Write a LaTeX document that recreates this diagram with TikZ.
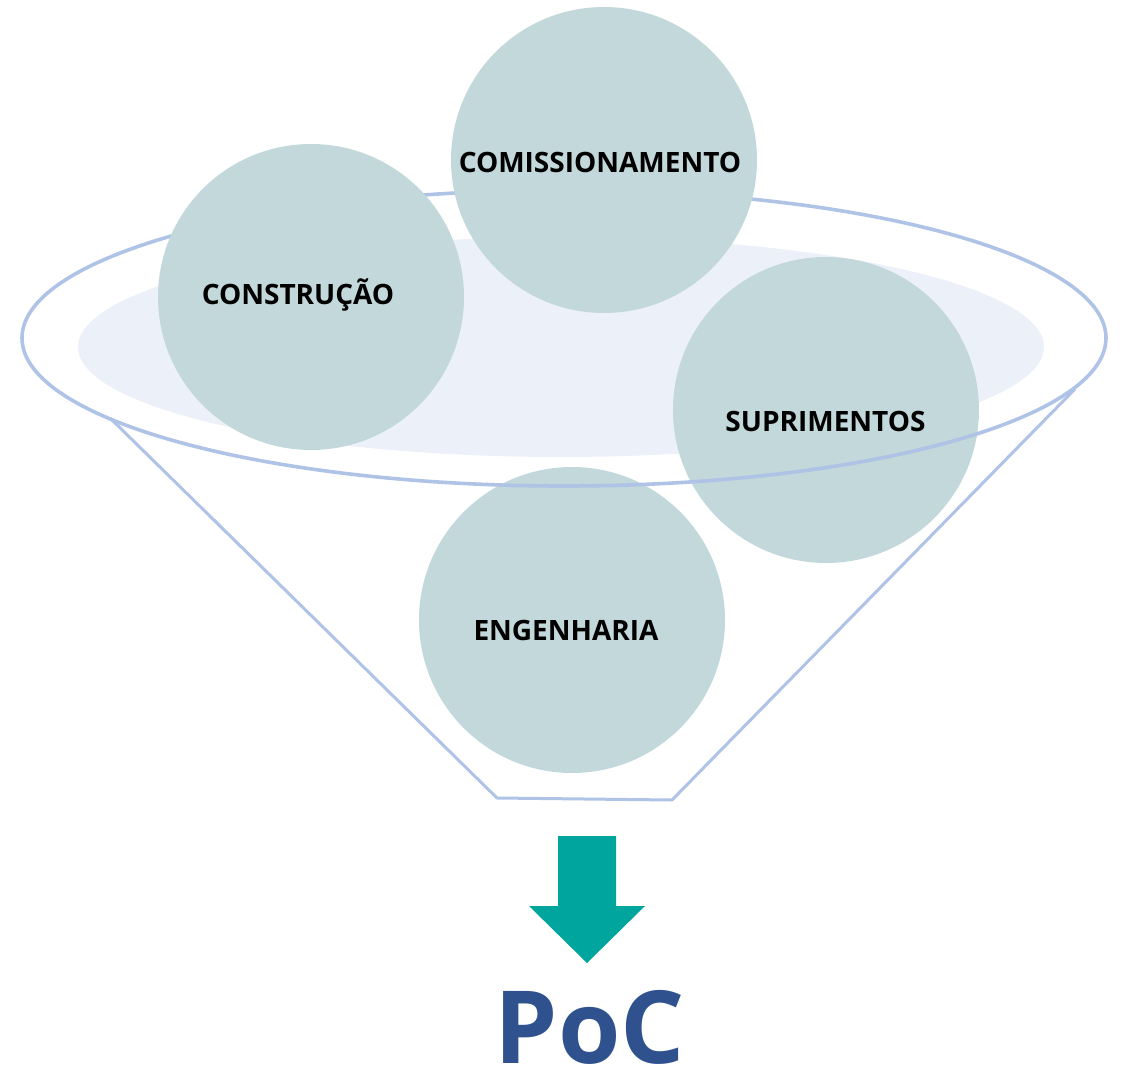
\documentclass[tikz,border=0pt]{standalone}
\usepackage{fontspec}
\setmainfont{Open Sans}
\usepackage{xcolor}
\usepackage{tikz}
\usetikzlibrary{positioning}

\definecolor{rimblue}{RGB}{175,195,230}
\definecolor{innerblue}{RGB}{235,240,249}
\definecolor{ballgrey}{RGB}{194,216,218}
\definecolor{arrowteal}{RGB}{0,166,157}
\definecolor{pocblue}{RGB}{47,82,143}

\begin{document}
\begin{tikzpicture}[
    x=1pt, y=-1pt,
    ball/.style={circle, fill=ballgrey, minimum size=306pt, inner sep=0pt},
    balltext/.style={anchor=base, font=\fontsize{28}{30}\selectfont\bfseries, text=black, inner sep=0pt},
    rim/.style={draw=rimblue, line width=3.6pt}
]
    \useasboundingbox (0,0) rectangle (1128,1068);

    % Funnel
    \coordinate (rimc) at (564,338);
    \fill[innerblue] (561,347) ellipse [x radius=483, y radius=110];
    \draw[rim, line width=3pt, line join=round] (110,418) -- (497,798) -- (672,800) -- (1075,389);
    \draw[rim] (rimc) ++(-542,0) arc[start angle=180, end angle=360, x radius=542, y radius=148];

    % Nodes
    \node[ball] (constr) at (311,297) {};
    \node[ball] (comis) at (604,160) {};
    \node[ball] (supr) at (826,410) {};
    \node[ball] (eng) at (572,620) {};

    \draw[rim] (rimc) ++(542,0) arc[start angle=0, end angle=180, x radius=542, y radius=148];

    % Labels
    \node[balltext] (constrlbl) at (298,304) {CONSTRUÇÃO};
    \node[balltext] (comislbl) at (600,172.7) {COMISSIONAMENTO};
    \node[balltext] (suprlbl) at (825.5,431.7) {SUPRIMENTOS};
    \node[balltext] (englbl) at (566,640.7) {ENGENHARIA};

    % Arrow and result
    \fill[arrowteal] (558,836) -- (616,836) -- (616,906) -- (645,906) -- (587,963) -- (529,906) -- (558,906) -- cycle;
    \node[anchor=base, font=\fontsize{101}{110}\selectfont\bfseries, text=pocblue, inner sep=0pt] (poc) at (590,1063) {PoC};
\end{tikzpicture}
\end{document}
